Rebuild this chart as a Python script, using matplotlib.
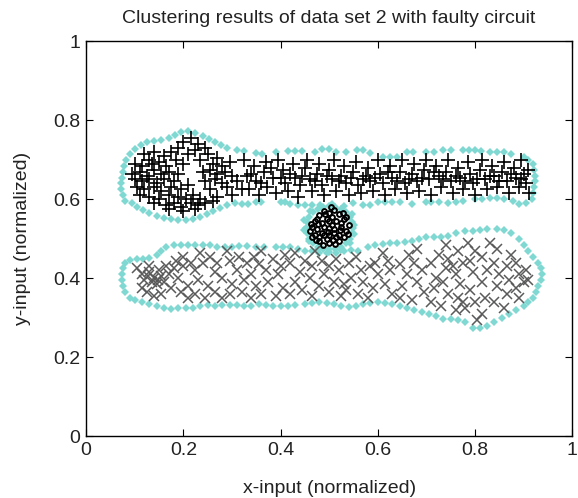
import numpy as np
import matplotlib
matplotlib.use("Agg")
import matplotlib.pyplot as plt

plt.rcParams["font.family"] = ["Liberation Sans Narrow", "Liberation Sans", "DejaVu Sans"]

# --- cluster 1: upper band ('+') ---
plus_pts = [
    (0.20, 0.745), (0.215, 0.755), (0.23, 0.74), (0.245, 0.73), (0.19, 0.73), (0.225, 0.725),
    (0.12, 0.715), (0.14, 0.72), (0.16, 0.71), (0.175, 0.72), (0.21, 0.715), (0.25, 0.715),
    (0.27, 0.705), (0.13, 0.70), (0.10, 0.69), (0.115, 0.685), (0.135, 0.69), (0.15, 0.695),
    (0.165, 0.685), (0.185, 0.70), (0.20, 0.69), (0.235, 0.70), (0.26, 0.69), (0.28, 0.685),
    (0.295, 0.695), (0.095, 0.665), (0.11, 0.67), (0.125, 0.66), (0.14, 0.675), (0.155, 0.665),
    (0.17, 0.67), (0.19, 0.665), (0.24, 0.67), (0.255, 0.675), (0.27, 0.665), (0.285, 0.67),
    (0.30, 0.66), (0.10, 0.65), (0.115, 0.645), (0.13, 0.65), (0.145, 0.64), (0.16, 0.65),
    (0.18, 0.645), (0.245, 0.645), (0.265, 0.65), (0.28, 0.64), (0.31, 0.645), (0.105, 0.63),
    (0.12, 0.625), (0.14, 0.63), (0.155, 0.62), (0.175, 0.63), (0.195, 0.625), (0.21, 0.635),
    (0.255, 0.625), (0.29, 0.63), (0.32, 0.625), (0.11, 0.61), (0.13, 0.605), (0.15, 0.60),
    (0.17, 0.61), (0.19, 0.605), (0.205, 0.60), (0.22, 0.61), (0.235, 0.60), (0.27, 0.605),
    (0.30, 0.61), (0.14, 0.59), (0.165, 0.585), (0.18, 0.59), (0.215, 0.59), (0.23, 0.585),
    (0.245, 0.59), (0.26, 0.595), (0.195, 0.58), (0.17, 0.575), (0.20, 0.57), (0.225, 0.575),
    (0.325, 0.70), (0.33, 0.66), (0.335, 0.625), (0.345, 0.685), (0.35, 0.645), (0.355, 0.61),
    (0.365, 0.67), (0.37, 0.695), (0.372, 0.63), (0.385, 0.655), (0.39, 0.615), (0.395, 0.70),
    (0.405, 0.675), (0.41, 0.64), (0.415, 0.62), (0.425, 0.69), (0.43, 0.655), (0.435, 0.605),
    (0.44, 0.635), (0.45, 0.68), (0.455, 0.70), (0.46, 0.65), (0.465, 0.62), (0.475, 0.665),
    (0.48, 0.69), (0.485, 0.635), (0.49, 0.61), (0.50, 0.675), (0.505, 0.65), (0.51, 0.70),
    (0.515, 0.62), (0.525, 0.66), (0.53, 0.685), (0.535, 0.64), (0.54, 0.61), (0.55, 0.67),
    (0.555, 0.695), (0.56, 0.635), (0.565, 0.615), (0.575, 0.66), (0.58, 0.68), (0.585, 0.645),
    (0.59, 0.62), (0.60, 0.70), (0.605, 0.665), (0.61, 0.64), (0.615, 0.61), (0.625, 0.685),
    (0.63, 0.655), (0.635, 0.625), (0.645, 0.67), (0.65, 0.70), (0.655, 0.64), (0.66, 0.615),
    (0.67, 0.665), (0.675, 0.69), (0.68, 0.645), (0.685, 0.62), (0.695, 0.675), (0.70, 0.70),
    (0.705, 0.65), (0.71, 0.61), (0.72, 0.685), (0.725, 0.66), (0.73, 0.63), (0.74, 0.67),
    (0.745, 0.70), (0.75, 0.645), (0.755, 0.615), (0.765, 0.68), (0.77, 0.655), (0.775, 0.625),
    (0.785, 0.695), (0.79, 0.665), (0.795, 0.64), (0.80, 0.61), (0.81, 0.675), (0.815, 0.70),
    (0.82, 0.65), (0.825, 0.625), (0.835, 0.685), (0.84, 0.66), (0.845, 0.63), (0.855, 0.67),
    (0.86, 0.695), (0.865, 0.645), (0.87, 0.615), (0.88, 0.68), (0.885, 0.655), (0.89, 0.63),
    (0.895, 0.70), (0.90, 0.665), (0.905, 0.64), (0.91, 0.675), (0.912, 0.615), (0.34, 0.665),
    (0.38, 0.68), (0.42, 0.665), (0.47, 0.645), (0.52, 0.645), (0.57, 0.65), (0.62, 0.67),
    (0.665, 0.65), (0.715, 0.67), (0.76, 0.66), (0.805, 0.65), (0.85, 0.645), (0.895, 0.65),
    (0.36, 0.64), (0.40, 0.655), (0.445, 0.66), (0.495, 0.66), (0.545, 0.655), (0.595, 0.655),
    (0.64, 0.645), (0.69, 0.655), (0.735, 0.65), (0.78, 0.645), (0.83, 0.66), (0.875, 0.665),
]

# --- cluster 2: small dense blob in the middle ---
mid_pts = [
    (0.50, 0.528), (0.485, 0.54), (0.515, 0.545), (0.49, 0.51), (0.51, 0.515), (0.475, 0.525),
    (0.525, 0.53), (0.47, 0.545), (0.53, 0.55), (0.48, 0.56), (0.50, 0.565), (0.52, 0.562),
    (0.495, 0.55), (0.505, 0.535), (0.465, 0.53), (0.535, 0.52), (0.47, 0.51), (0.53, 0.505),
    (0.48, 0.495), (0.50, 0.49), (0.52, 0.495), (0.49, 0.53), (0.51, 0.525), (0.485, 0.515),
    (0.515, 0.505), (0.495, 0.50), (0.505, 0.555), (0.475, 0.55), (0.525, 0.54), (0.46, 0.52),
    (0.54, 0.535), (0.49, 0.57), (0.51, 0.572), (0.48, 0.505), (0.52, 0.51), (0.50, 0.51),
    (0.50, 0.545), (0.465, 0.505), (0.535, 0.555), (0.488, 0.485), (0.512, 0.487),
    (0.478, 0.538), (0.522, 0.522), (0.492, 0.562), (0.508, 0.498), (0.462, 0.538),
    (0.538, 0.512), (0.472, 0.498), (0.528, 0.565), (0.497, 0.518), (0.503, 0.58),
]

# --- cluster 3: lower band ('x') ---
cross_pts = [
    (0.105, 0.425), (0.115, 0.41), (0.12, 0.395), (0.128, 0.405), (0.135, 0.39), (0.14, 0.40),
    (0.148, 0.395), (0.155, 0.405), (0.145, 0.385), (0.16, 0.39), (0.13, 0.415), (0.15, 0.42),
    (0.17, 0.41), (0.165, 0.43), (0.18, 0.425), (0.185, 0.445), (0.125, 0.365), (0.14, 0.355),
    (0.155, 0.36), (0.115, 0.375), (0.175, 0.375), (0.19, 0.40), (0.20, 0.43), (0.195, 0.365),
    (0.21, 0.35), (0.225, 0.36), (0.21, 0.38), (0.23, 0.395), (0.225, 0.42), (0.24, 0.44),
    (0.255, 0.455), (0.235, 0.465), (0.27, 0.44), (0.265, 0.415), (0.28, 0.40), (0.25, 0.38),
    (0.265, 0.365), (0.245, 0.35), (0.28, 0.35), (0.295, 0.36), (0.30, 0.385), (0.31, 0.42),
    (0.295, 0.445), (0.315, 0.455), (0.33, 0.44), (0.345, 0.455), (0.355, 0.435), (0.34, 0.41),
    (0.325, 0.395), (0.35, 0.38), (0.32, 0.365), (0.34, 0.35), (0.36, 0.36), (0.375, 0.39),
    (0.37, 0.42), (0.385, 0.45), (0.40, 0.43), (0.41, 0.46), (0.42, 0.44), (0.395, 0.41),
    (0.405, 0.375), (0.39, 0.355), (0.42, 0.36), (0.43, 0.39), (0.44, 0.415), (0.45, 0.445),
    (0.465, 0.43), (0.46, 0.40), (0.445, 0.37), (0.465, 0.355), (0.48, 0.38), (0.49, 0.41),
    (0.485, 0.445), (0.50, 0.43), (0.515, 0.45), (0.52, 0.42), (0.51, 0.39), (0.50, 0.365),
    (0.525, 0.355), (0.53, 0.385), (0.545, 0.40), (0.54, 0.44), (0.555, 0.455), (0.565, 0.42),
    (0.57, 0.39), (0.56, 0.36), (0.58, 0.35), (0.59, 0.375), (0.60, 0.41), (0.595, 0.44),
    (0.61, 0.465), (0.62, 0.445), (0.625, 0.42), (0.615, 0.385), (0.63, 0.36), (0.645, 0.35),
    (0.65, 0.38), (0.66, 0.41), (0.645, 0.435), (0.665, 0.46), (0.68, 0.475), (0.675, 0.44),
    (0.69, 0.42), (0.68, 0.39), (0.695, 0.365), (0.67, 0.345), (0.71, 0.34), (0.715, 0.375),
    (0.72, 0.40), (0.71, 0.44), (0.725, 0.46), (0.74, 0.485), (0.745, 0.45), (0.74, 0.425),
    (0.735, 0.39), (0.745, 0.36), (0.73, 0.33), (0.76, 0.32), (0.765, 0.35), (0.77, 0.385),
    (0.76, 0.41), (0.775, 0.44), (0.765, 0.47), (0.785, 0.49), (0.80, 0.47), (0.79, 0.445),
    (0.795, 0.415), (0.79, 0.37), (0.80, 0.34), (0.78, 0.325), (0.805, 0.295), (0.815, 0.31),
    (0.82, 0.35), (0.815, 0.39), (0.825, 0.42), (0.815, 0.455), (0.83, 0.49), (0.845, 0.475),
    (0.84, 0.44), (0.85, 0.41), (0.845, 0.38), (0.84, 0.34), (0.86, 0.325), (0.865, 0.36),
    (0.87, 0.395), (0.865, 0.43), (0.875, 0.46), (0.885, 0.44), (0.89, 0.41), (0.885, 0.375),
    (0.89, 0.35), (0.90, 0.39), (0.905, 0.42), (0.91, 0.395), (0.775, 0.34), (0.755, 0.43),
    (0.13, 0.43), (0.20, 0.455), (0.215, 0.44), (0.585, 0.43), (0.535, 0.37), (0.47, 0.47),
    (0.43, 0.465), (0.36, 0.47), (0.29, 0.47),
]

# --- cyan boundary points of each cluster ---
edge_upper = [
    (0.08, 0.595), (0.075, 0.61), (0.072, 0.625), (0.072, 0.64), (0.073, 0.655), (0.075, 0.67),
    (0.078, 0.685), (0.083, 0.70), (0.09, 0.715), (0.10, 0.727), (0.112, 0.738), (0.125, 0.745),
    (0.14, 0.748), (0.155, 0.75), (0.17, 0.755), (0.183, 0.762), (0.195, 0.77), (0.21, 0.772),
    (0.225, 0.768), (0.24, 0.76), (0.252, 0.752), (0.265, 0.745), (0.278, 0.738), (0.29, 0.73),
    (0.31, 0.725), (0.325, 0.722), (0.35, 0.717), (0.362, 0.715), (0.39, 0.72), (0.415, 0.722),
    (0.43, 0.722), (0.445, 0.722), (0.47, 0.72), (0.485, 0.726), (0.50, 0.726), (0.515, 0.72),
    (0.535, 0.72), (0.557, 0.725), (0.57, 0.725), (0.585, 0.717), (0.61, 0.706), (0.625, 0.706),
    (0.64, 0.708), (0.66, 0.72), (0.672, 0.72), (0.70, 0.72), (0.715, 0.72), (0.735, 0.725),
    (0.75, 0.725), (0.775, 0.725), (0.787, 0.725), (0.80, 0.725), (0.812, 0.722), (0.83, 0.72),
    (0.845, 0.72), (0.86, 0.72), (0.875, 0.715), (0.90, 0.708), (0.91, 0.70), (0.92, 0.69),
    (0.922, 0.675), (0.924, 0.66), (0.924, 0.645), (0.922, 0.63), (0.92, 0.615), (0.918, 0.60),
    (0.905, 0.59), (0.89, 0.588), (0.878, 0.595), (0.86, 0.60), (0.845, 0.603), (0.83, 0.603),
    (0.815, 0.60), (0.80, 0.60), (0.775, 0.595), (0.76, 0.592), (0.745, 0.59), (0.725, 0.594),
    (0.71, 0.594), (0.70, 0.594), (0.67, 0.588), (0.645, 0.594), (0.63, 0.594), (0.615, 0.594),
    (0.60, 0.594), (0.585, 0.586), (0.57, 0.586), (0.55, 0.59), (0.465, 0.586), (0.45, 0.586),
    (0.435, 0.586), (0.42, 0.588), (0.41, 0.594), (0.40, 0.594), (0.36, 0.594), (0.35, 0.594),
    (0.333, 0.588), (0.32, 0.588), (0.307, 0.59), (0.29, 0.585), (0.276, 0.578), (0.262, 0.57),
    (0.248, 0.562), (0.235, 0.556), (0.22, 0.55), (0.205, 0.548), (0.19, 0.548), (0.175, 0.55),
    (0.16, 0.553), (0.145, 0.558), (0.13, 0.566), (0.117, 0.572), (0.105, 0.58), (0.095, 0.59),
]

edge_mid = [
    (0.548, 0.528), (0.546, 0.542), (0.542, 0.556), (0.534, 0.567), (0.524, 0.576), (0.512, 0.581),
    (0.50, 0.583), (0.488, 0.581), (0.476, 0.576), (0.466, 0.567), (0.458, 0.556), (0.454, 0.542),
    (0.452, 0.528), (0.454, 0.514), (0.458, 0.50), (0.466, 0.489), (0.476, 0.48), (0.488, 0.475),
    (0.50, 0.473), (0.512, 0.475), (0.524, 0.48), (0.534, 0.489), (0.542, 0.50), (0.546, 0.514),
    (0.552, 0.535), (0.547, 0.562), (0.530, 0.582), (0.506, 0.589), (0.481, 0.586), (0.461, 0.570),
    (0.449, 0.548), (0.449, 0.521), (0.458, 0.494), (0.476, 0.474), (0.500, 0.467), (0.525, 0.472),
    (0.543, 0.490), (0.552, 0.512),
]

edge_lower = [
    (0.09, 0.35), (0.08, 0.365), (0.076, 0.38), (0.074, 0.395), (0.074, 0.41), (0.076, 0.425),
    (0.08, 0.44), (0.09, 0.447), (0.105, 0.45), (0.117, 0.448), (0.13, 0.452), (0.145, 0.46),
    (0.155, 0.468), (0.165, 0.478), (0.18, 0.485), (0.195, 0.485), (0.21, 0.485), (0.225, 0.485),
    (0.24, 0.485), (0.255, 0.485), (0.27, 0.48), (0.285, 0.478), (0.30, 0.48), (0.315, 0.482),
    (0.33, 0.482), (0.35, 0.478), (0.365, 0.48), (0.39, 0.48), (0.405, 0.478), (0.42, 0.478),
    (0.435, 0.475), (0.45, 0.47), (0.465, 0.468), (0.48, 0.465), (0.495, 0.465), (0.515, 0.465),
    (0.53, 0.468), (0.545, 0.472), (0.56, 0.47), (0.58, 0.48), (0.595, 0.485), (0.61, 0.488),
    (0.625, 0.49), (0.64, 0.49), (0.655, 0.492), (0.67, 0.495), (0.685, 0.50), (0.70, 0.505),
    (0.715, 0.505), (0.73, 0.505), (0.745, 0.508), (0.76, 0.515), (0.78, 0.52), (0.795, 0.52),
    (0.81, 0.522), (0.825, 0.525), (0.845, 0.525), (0.86, 0.522), (0.875, 0.515), (0.89, 0.50),
    (0.90, 0.485), (0.91, 0.47), (0.92, 0.455), (0.93, 0.44), (0.935, 0.425), (0.937, 0.41),
    (0.935, 0.395), (0.93, 0.38), (0.925, 0.365), (0.92, 0.35), (0.91, 0.34), (0.90, 0.33),
    (0.885, 0.32), (0.87, 0.31), (0.855, 0.30), (0.84, 0.29), (0.825, 0.28), (0.81, 0.275),
    (0.795, 0.275), (0.78, 0.29), (0.765, 0.295), (0.75, 0.298), (0.735, 0.298), (0.72, 0.305),
    (0.705, 0.31), (0.69, 0.315), (0.675, 0.32), (0.66, 0.325), (0.645, 0.33), (0.63, 0.335),
    (0.615, 0.338), (0.60, 0.34), (0.585, 0.338), (0.57, 0.335), (0.555, 0.33), (0.54, 0.328),
    (0.525, 0.33), (0.51, 0.335), (0.495, 0.338), (0.48, 0.34), (0.465, 0.338), (0.45, 0.335),
    (0.43, 0.333), (0.415, 0.33), (0.40, 0.33), (0.385, 0.33), (0.37, 0.333), (0.355, 0.335),
    (0.34, 0.33), (0.325, 0.33), (0.31, 0.333), (0.295, 0.333), (0.28, 0.333), (0.265, 0.33),
    (0.25, 0.333), (0.235, 0.33), (0.22, 0.325), (0.205, 0.325), (0.19, 0.325), (0.175, 0.322),
    (0.16, 0.325), (0.145, 0.33), (0.13, 0.335), (0.115, 0.34), (0.10, 0.345),
]

ticks = [0, 0.2, 0.4, 0.6, 0.8, 1]
tick_labels = ["0", "0.2", "0.4", "0.6", "0.8", "1"]

cyan = "#7fd8d2"

fig = plt.figure(figsize=(5.78, 4.98), dpi=100)
ax = fig.add_axes([0.149, 0.1235, 0.841, 0.794])

for pts in (edge_upper, edge_mid, edge_lower):
    e = np.array(pts)
    ax.plot(e[:, 0], e[:, 1], linestyle="none", marker="D", markersize=3.8,
            color=cyan, markeredgewidth=0)

p = np.array(plus_pts)
ax.plot(p[:, 0], p[:, 1], linestyle="none", marker="+", markersize=9.5,
        color="black", markeredgewidth=1.2)

c = np.array(cross_pts)
ax.plot(c[:, 0], c[:, 1], linestyle="none", marker="x", markersize=6.5,
        color="#5a5a5a", markeredgewidth=1.1)

m = np.array(mid_pts)
ax.plot(m[:, 0], m[:, 1], linestyle="none", marker="o", markersize=3.5,
        color="black", markerfacecolor="none", markeredgewidth=1.4)

ax.set_xlim(0, 1)
ax.set_ylim(0, 1)
ax.set_xticks(ticks)
ax.set_xticklabels(tick_labels)
ax.set_yticks(ticks)
ax.set_yticklabels(tick_labels)
ax.tick_params(direction="in", length=5, top=True, right=True, labelsize=14,
               pad=4, labelcolor="#222222")
for s in ax.spines.values():
    s.set_linewidth(1.0)

ax.set_title("Clustering results of data set 2 with faulty circuit", fontsize=14, pad=13,
             color="#222222")
ax.set_xlabel("x-input (normalized)", fontsize=14, labelpad=15, color="#222222")
ax.set_ylabel("y-input (normalized)", fontsize=14, labelpad=16, color="#222222")

fig.savefig("out.png", dpi=100)
